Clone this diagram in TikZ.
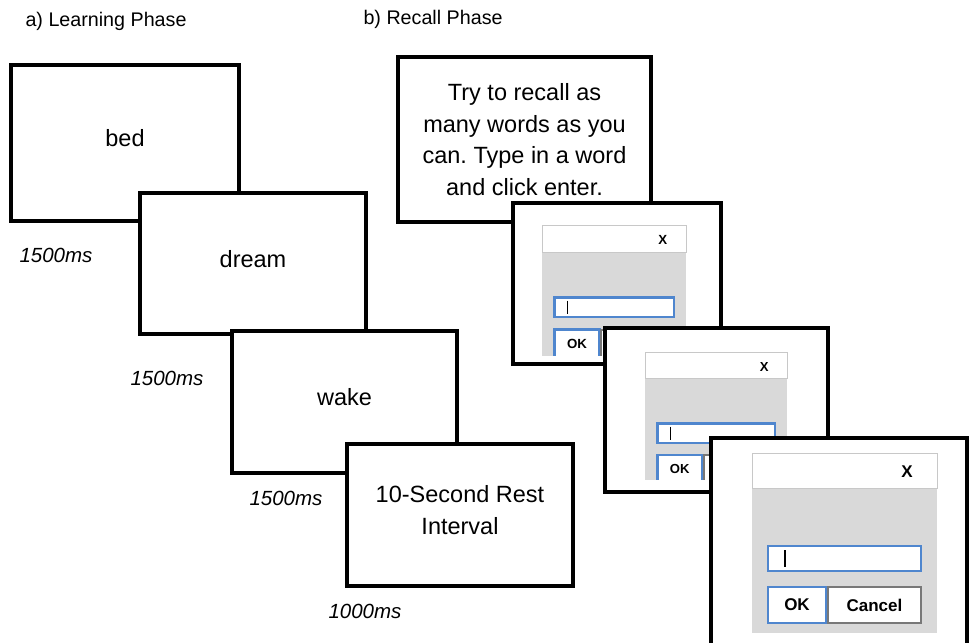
\documentclass[tikz,border=0pt]{standalone}
\usepackage{fontspec}
\setmainfont{Liberation Sans}
\usepackage{xcolor}
\definecolor{dlgblue}{RGB}{79,134,206}
\definecolor{dlggray}{RGB}{217,217,217}
\definecolor{baredge}{RGB}{200,200,200}
\definecolor{btngray}{RGB}{120,120,120}
\frenchspacing

\begin{document}
\begin{tikzpicture}[
  x=1pt, y=-1pt,
  screen/.style={draw, line width=4pt, fill=white, anchor=north west, outer sep=0pt,
                 inner sep=0pt, align=center, font=\fontsize{23.5}{31.5}\selectfont},
  word/.style={screen, text depth=10pt},
  timing/.style={anchor=base west, font=\fontsize{20.5}{24}\selectfont\itshape},
  heading/.style={anchor=base west, font=\fontsize{19.7}{24}\selectfont},
  titlebar/.style={draw=baredge, line width=1pt, fill=white, anchor=north west,
                   minimum width=185pt, minimum height=35pt, outer sep=0pt, inner sep=0pt},
  xmark/.style={font=\fontsize{17}{20}\selectfont\bfseries},
  inputbox/.style={draw=dlgblue, line width=2.5pt, fill=white, anchor=north west,
                   minimum width=153pt, minimum height=25pt, outer sep=0pt, inner sep=0pt},
  okbtn/.style={draw=dlgblue, line width=2.5pt, fill=white, minimum width=58pt,
                minimum height=36pt, inner sep=0pt, outer sep=0pt,
                font=\fontsize{17}{20}\selectfont\bfseries},
  cancelbtn/.style={okbtn, draw=btngray, line width=2pt, minimum width=93pt},
  cursor/.style={line width=1.5pt},
]
  \useasboundingbox (0,0) rectangle (970,643);
  \clip (0,0) rectangle (970,643);

  \node[heading] (learnhead) at (22,26) {a) Learning Phase};
  \node[heading] (recallhead) at (360,24) {b) Recall Phase};

  \node[word, minimum width=228pt, minimum height=156pt] (bed) at (11,65) {bed};
  \node[timing] (t1) at (16,262) {1500ms};
  \node[word, minimum width=226pt, minimum height=141pt] (dream) at (140,193) {dream};
  \node[timing] (t2) at (127,385) {1500ms};
  \node[word, minimum width=225pt, minimum height=142pt] (wake) at (232,331) {wake};
  \node[timing] (t3) at (246,505) {1500ms};
  \node[word, minimum width=226pt, minimum height=142pt] (rest) at (347,444) {10-Second Rest\\Interval};
  \node[timing] (t4) at (325,618) {1000ms};

  \node[screen, minimum width=253pt, minimum height=165pt] (instr) at (398,57)
    {Try to recall as\\many words as you\\can. Type in a word\\and click enter.};

  \node[screen, minimum width=208pt, minimum height=161pt] (s1) at (513,203) {};
  \begin{scope}[shift={(542,225)}, scale=0.78, transform shape]
    \clip (-2,-2) rectangle (187,167);
    \fill[dlggray] (0,35) rectangle (185,180);
    \node[titlebar] (bar1) at (0,0) {};
    \node[xmark] (x1) at (155,19) {X};
    \node[inputbox] (in1) at (16,93) {};
    \draw[cursor] (33,97) -- (33,114);
    \node[okbtn] (ok1) at (45,152) {OK};
    \node[cancelbtn] (cancel1) at (122.5,152) {Cancel};
  \end{scope}

  \node[screen, minimum width=223pt, minimum height=164pt] (s2) at (605,328) {};
  \begin{scope}[shift={(645,352)}, scale=0.77, transform shape]
    \clip (-2,-2) rectangle (187,166);
    \fill[dlggray] (0,35) rectangle (185,180);
    \node[titlebar] (bar2) at (0,0) {};
    \node[xmark] (x2) at (155,19) {X};
    \node[inputbox] (in2) at (16,93) {};
    \draw[cursor] (33,97) -- (33,114);
    \node[okbtn] (ok2) at (45,152) {OK};
    \node[cancelbtn] (cancel2) at (122.5,152) {Cancel};
  \end{scope}

  \node[screen, minimum width=256pt, minimum height=230pt] (s3) at (711,438) {};
  \begin{scope}[shift={(752,453)}]
    \fill[dlggray] (0,35) rectangle (185,180);
    \node[titlebar] (bar3) at (0,0) {};
    \node[xmark] (x3) at (155,19) {X};
    \node[inputbox] (in3) at (16,93) {};
    \draw[cursor] (33,97) -- (33,114);
    \node[okbtn] (ok3) at (45,152) {OK};
    \node[cancelbtn] (cancel3) at (122.5,152) {Cancel};
  \end{scope}
\end{tikzpicture}
\end{document}
